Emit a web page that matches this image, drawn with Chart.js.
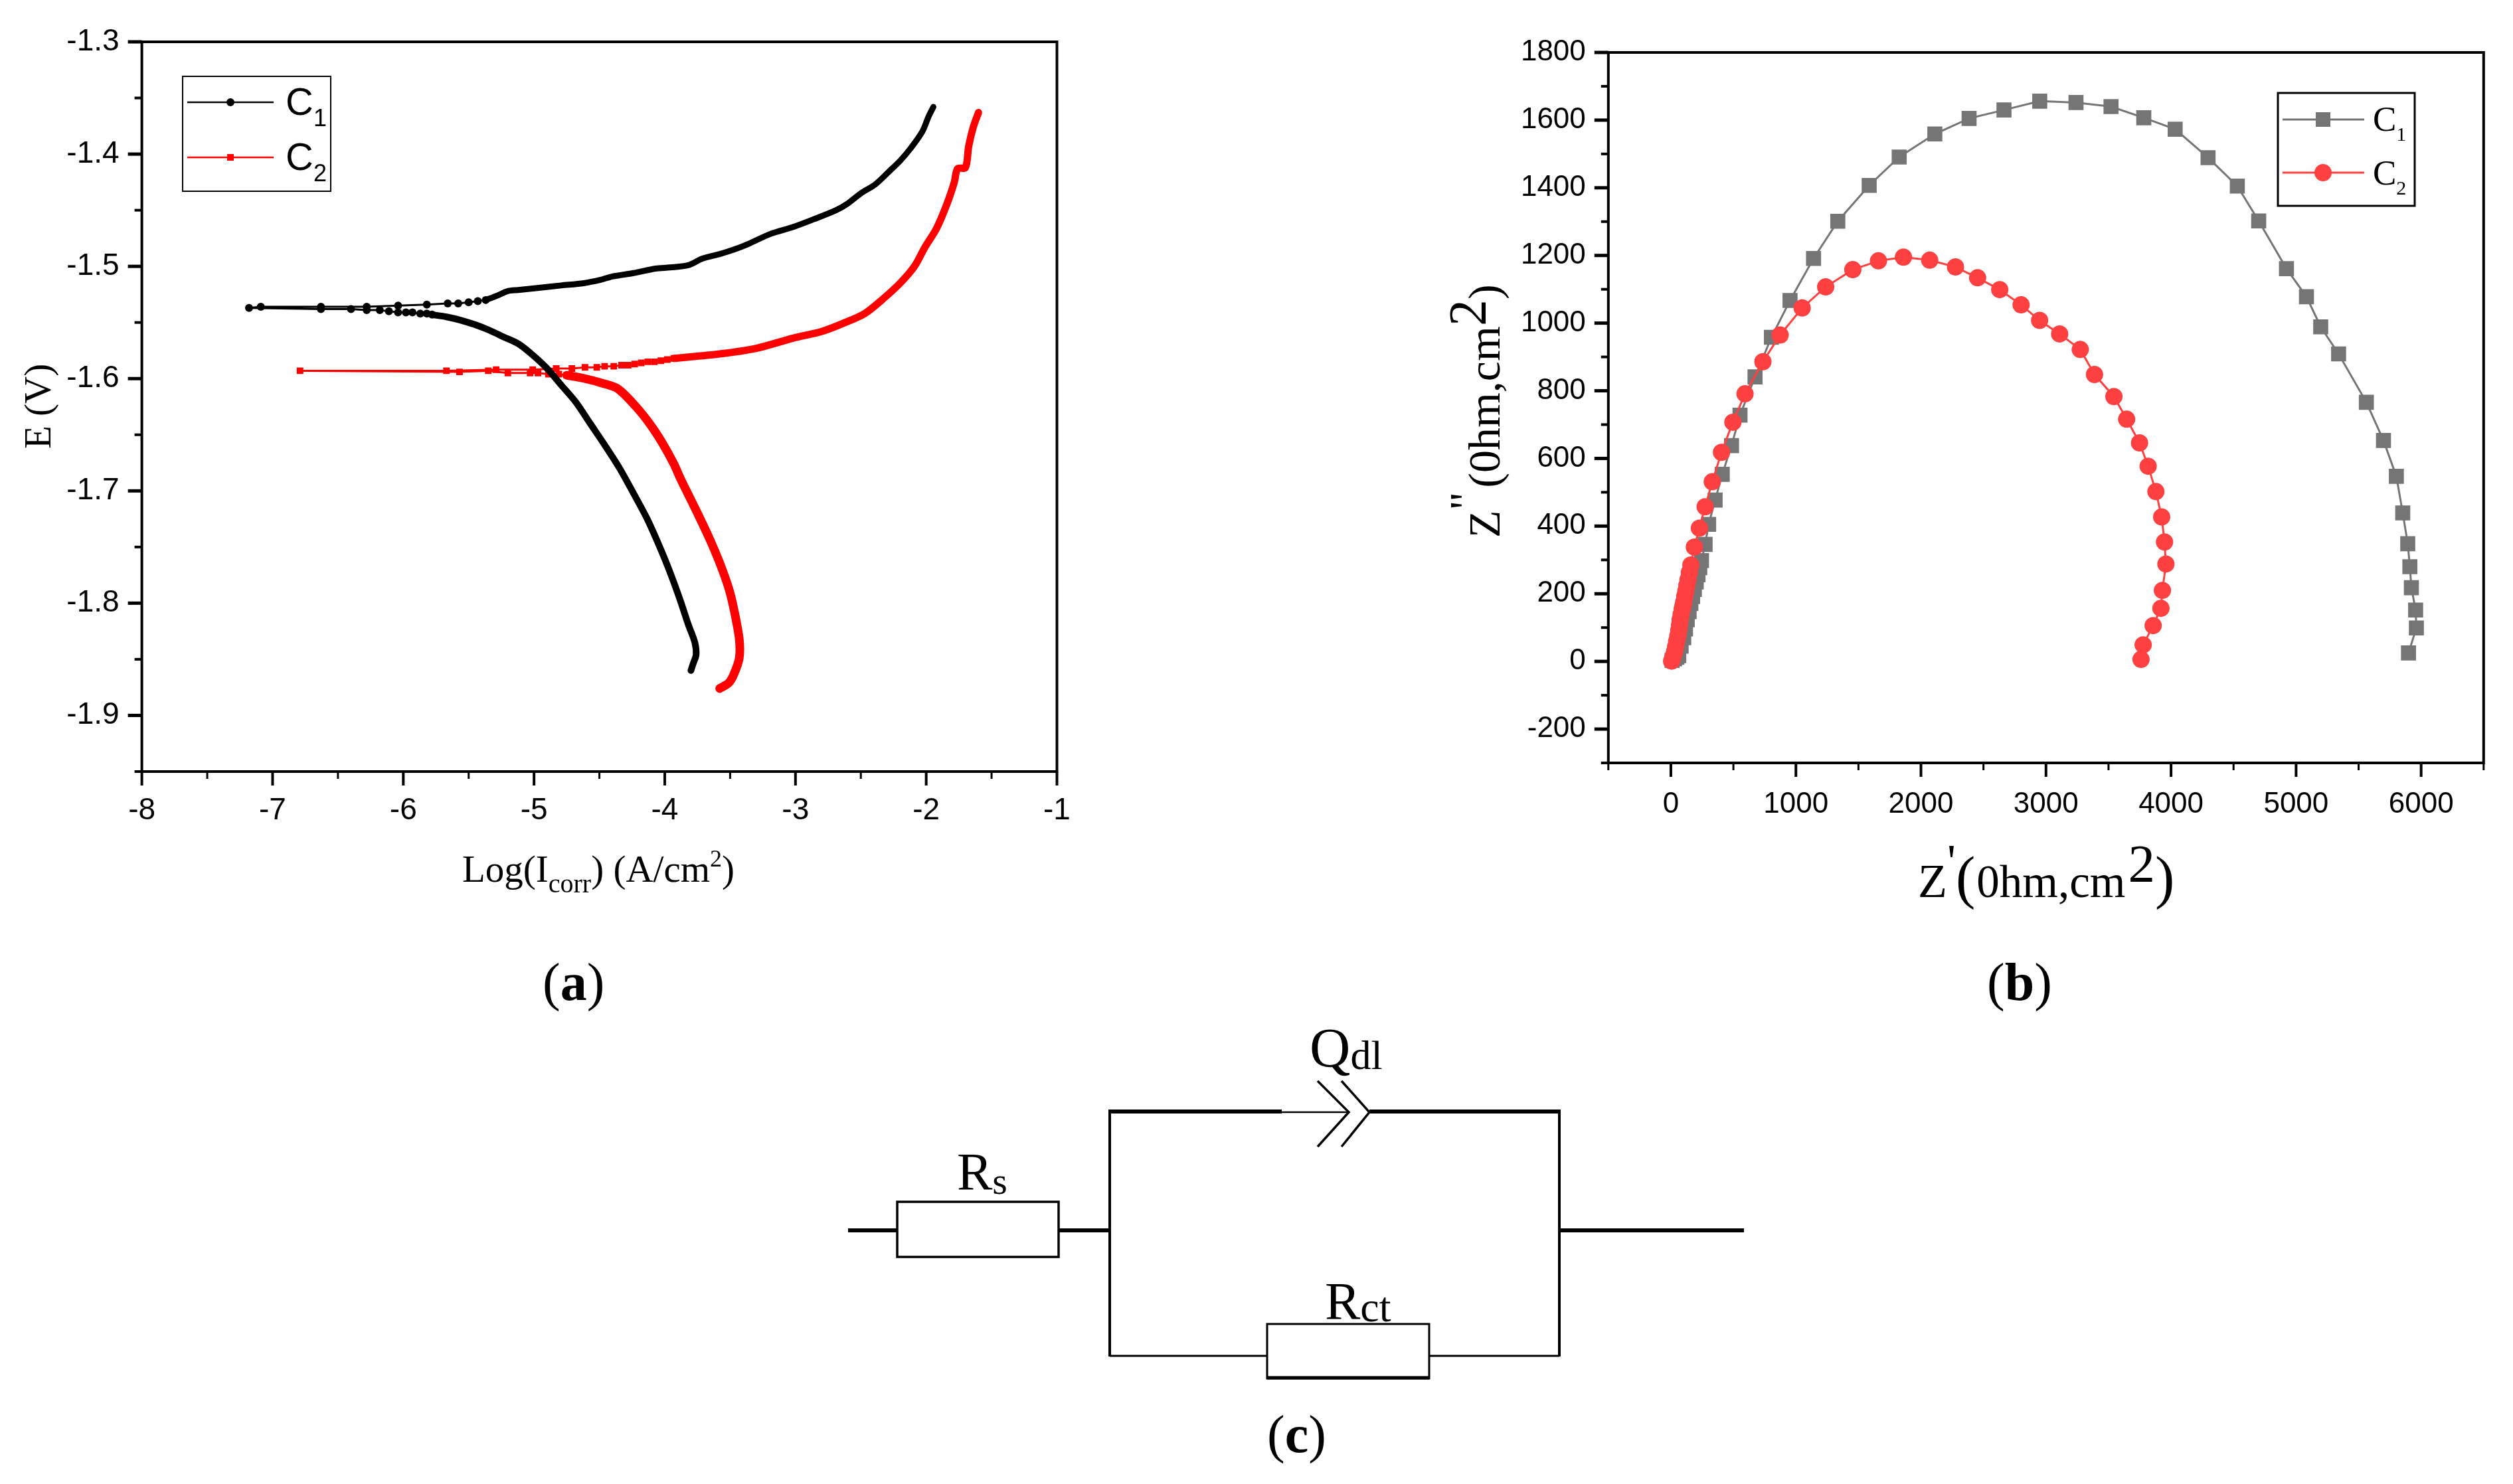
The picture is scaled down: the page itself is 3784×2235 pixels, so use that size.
<!DOCTYPE html>
<html>
<head>
<meta charset="utf-8">
<title>Polarization and impedance curves</title>
<script src="https://cdn.jsdelivr.net/npm/chart.js@4"></script>
<style>
html,body{margin:0;padding:0;background:#fff;overflow:hidden}
#page{position:relative;width:3784px;height:2235px}
canvas{position:absolute}
#chartA{left:0;top:0}
#chartB{left:2100px;top:0}
#overlay{position:absolute;left:0;top:0;font-family:"Liberation Serif",serif;fill:#000}
#overlay .sans{font-family:"Liberation Sans",sans-serif}
</style>
</head>
<body>
<div id="page">
<canvas id="chartA" width="1800" height="1400"></canvas>
<canvas id="chartB" width="1684" height="1400"></canvas>
<svg id="overlay" width="3784" height="2235" viewBox="0 0 3784 2235">
  <!-- axis titles a -->
  <text x="696" y="1328" font-size="57">Log(I<tspan font-size="40" dy="16">corr</tspan><tspan dy="-16">) (A/cm</tspan><tspan font-size="36" dy="-23">2</tspan><tspan dy="23">)</tspan></text>
  <text transform="translate(76,676) rotate(-90)" font-size="57">E (V)</text>
  <!-- axis titles b -->
  <text x="2888" y="1351" font-size="72">Z<tspan dy="-30">'</tspan><tspan font-size="88" dy="30">(</tspan><tspan font-size="69" dx="2">0hm,cm</tspan><tspan font-size="81" dx="4" dy="-23">2</tspan><tspan font-size="88" dy="23">)</tspan></text>
  <text transform="translate(2258,810) rotate(-90)" font-size="68">Z<tspan dy="-29">"</tspan><tspan dx="6" dy="29">(0hm,cm</tspan><tspan font-size="80" dy="-21">2</tspan><tspan font-size="68" dy="21">)</tspan></text>
  <!-- legend a -->
  <rect x="275" y="115" width="223" height="173" fill="none" stroke="#000" stroke-width="2"/>
  <line x1="282" x2="412" y1="154" y2="154" stroke="#000" stroke-width="2.5"/>
  <circle cx="347" cy="154" r="6" fill="#000"/>
  <line x1="282" x2="412" y1="237" y2="237" stroke="#ff0000" stroke-width="2.5"/>
  <rect x="342" y="232" width="10" height="10" fill="#ff0000"/>
  <text class="sans" x="430" y="173" font-size="58">C<tspan font-size="36" dy="17">1</tspan></text>
  <text class="sans" x="430" y="256" font-size="58">C<tspan font-size="36" dy="17">2</tspan></text>
  <!-- legend b -->
  <rect x="3430" y="140" width="206" height="170" fill="none" stroke="#000" stroke-width="3"/>
  <line x1="3437" x2="3560" y1="180" y2="180" stroke="#757575" stroke-width="3"/>
  <rect x="3487" y="169" width="22" height="22" fill="#757575"/>
  <line x1="3437" x2="3560" y1="260" y2="260" stroke="#ff4040" stroke-width="3"/>
  <circle cx="3498" cy="260" r="13" fill="#ff4040"/>
  <text x="3573" y="197" font-size="53">C<tspan font-size="30" dy="15">1</tspan></text>
  <text x="3573" y="278" font-size="53">C<tspan font-size="30" dy="15">2</tspan></text>
  <!-- panel labels -->
  <text x="817" y="1506" font-size="80">(<tspan font-weight="bold">a</tspan>)</text>
  <text x="2992" y="1506" font-size="80">(<tspan font-weight="bold">b</tspan>)</text>
  <text x="1908" y="2187" font-size="80">(<tspan font-weight="bold">c</tspan>)</text>
  <!-- circuit -->
  <g fill="none" stroke="#000">
    <line x1="1277" x2="1351" y1="1853" y2="1853" stroke-width="6"/>
    <rect x="1351" y="1810" width="243" height="83" stroke-width="3.5"/>
    <line x1="1594" x2="1671" y1="1853" y2="1853" stroke-width="6"/>
    <line x1="1671" x2="1671" y1="1672" y2="2043" stroke-width="4"/>
    <line x1="2348" x2="2348" y1="1672" y2="2043" stroke-width="4"/>
    <line x1="1669" x2="1930" y1="1674" y2="1674" stroke-width="6"/>
    <line x1="1930" x2="2031" y1="1675" y2="1675" stroke-width="2.5"/>
    <line x1="2062" x2="2350" y1="1674" y2="1674" stroke-width="6"/>
    <polyline points="1984,1628 2031,1675 1984,1727" stroke-width="3.5"/>
    <polyline points="2020,1628 2062,1675 2020,1727" stroke-width="3.5"/>
    <line x1="1671" x2="1908" y1="2042" y2="2042" stroke-width="3"/>
    <line x1="2152" x2="2348" y1="2042" y2="2042" stroke-width="3"/>
    <rect x="1908" y="1994" width="244" height="82" stroke-width="3"/>
    <line x1="1908" x2="2152" y1="2075" y2="2075" stroke-width="5"/>
    <line x1="2348" x2="2626" y1="1853" y2="1853" stroke-width="6"/>
  </g>
  <text x="1441" y="1792" font-size="80">R<tspan font-size="58" dy="6">s</tspan></text>
  <text x="1972" y="1607" font-size="85">Q<tspan font-size="62" dy="3">dl</tspan></text>
  <text x="1995" y="1987" font-size="80">R<tspan font-size="64" dy="3">ct</tspan></text>
</svg>
</div>

<script>
// ===== Data (a) polarization =====
const c1CathX=[-3.80,-3.78,-3.76,-3.77,-3.82,-3.88,-3.945,-4.02,-4.13,-4.24,-4.35,-4.46,-4.57,-4.68,-4.79,-4.90,-5.01,-5.12,-5.23,-5.34,-5.45,-5.56,-5.67,-5.78];
const c1CathY=[-1.860,-1.853,-1.846,-1.835,-1.819,-1.798,-1.777,-1.755,-1.726,-1.702,-1.679,-1.659,-1.640,-1.621,-1.606,-1.591,-1.579,-1.569,-1.563,-1.557,-1.552,-1.548,-1.545,-1.543];
const c1TailX=[-5.78,-5.82,-5.87,-5.93,-5.98,-6.04,-6.11,-6.18,-6.28,-6.40,-6.63,-7.18,-7.09,-6.63,-6.28,-6.04,-5.82,-5.66,-5.58,-5.50,-5.43,-5.37];
const c1TailY=[-1.543,-1.542,-1.542,-1.541,-1.541,-1.541,-1.540,-1.539,-1.539,-1.538,-1.538,-1.537,-1.536,-1.536,-1.536,-1.535,-1.534,-1.533,-1.533,-1.532,-1.531,-1.530];
const c1AnodX=[-5.37,-5.28,-5.20,-5.12,-4.95,-4.79,-4.62,-4.49,-4.40,-4.24,-4.07,-3.96,-3.82,-3.71,-3.58,-3.47,-3.36,-3.19,-3.02,-2.86,-2.69,-2.60,-2.50,-2.39,-2.28,-2.20,-2.12,-2.03,-1.98,-1.945];
const c1AnodY=[-1.530,-1.526,-1.522,-1.521,-1.519,-1.517,-1.515,-1.512,-1.509,-1.506,-1.502,-1.501,-1.499,-1.493,-1.489,-1.485,-1.480,-1.471,-1.465,-1.458,-1.450,-1.444,-1.435,-1.427,-1.415,-1.406,-1.395,-1.380,-1.366,-1.358];

const c2CathX=[-3.58,-3.51,-3.47,-3.43,-3.43,-3.47,-3.51,-3.58,-3.66,-3.77,-3.88,-3.93,-4.02,-4.11,-4.22,-4.36,-4.48,-4.61,-4.75];
const c2CathY=[-1.876,-1.871,-1.863,-1.849,-1.832,-1.806,-1.787,-1.764,-1.742,-1.715,-1.689,-1.676,-1.657,-1.641,-1.625,-1.609,-1.604,-1.600,-1.597];
const c2TailX=[-4.75,-4.81,-4.89,-4.97,-5.03,-5.20,-5.35,-5.57,-6.79,-5.67,-5.29,-5.01,-4.83,-4.71,-4.61,-4.52,-4.46,-4.39,-4.33,-4.28,-4.23,-4.18,-4.13,-4.08,-4.03,-3.98,-3.93];
const c2TailY=[-1.597,-1.596,-1.596,-1.595,-1.595,-1.595,-1.593,-1.594,-1.593,-1.593,-1.592,-1.592,-1.591,-1.591,-1.590,-1.590,-1.589,-1.589,-1.588,-1.588,-1.587,-1.586,-1.585,-1.585,-1.584,-1.583,-1.582];
const c2AnodX=[-3.93,-3.58,-3.30,-3.02,-2.80,-2.64,-2.47,-2.34,-2.20,-2.09,-2.01,-1.92,-1.84,-1.785,-1.76,-1.70,-1.675,-1.64,-1.60];
const c2AnodY=[-1.582,-1.578,-1.573,-1.564,-1.558,-1.551,-1.542,-1.530,-1.515,-1.500,-1.483,-1.466,-1.444,-1.425,-1.413,-1.412,-1.393,-1.376,-1.363];

const aXMajor=[-8,-7,-6,-5,-4,-3,-2,-1];
const aXMinor=[-7.5,-6.5,-5.5,-4.5,-3.5,-2.5,-1.5];
const aYMajor=[-1.9,-1.8,-1.7,-1.6,-1.5,-1.4,-1.3];
const aYMinor=[-1.95,-1.85,-1.75,-1.65,-1.55,-1.45,-1.35];

// ===== Data (b) impedance =====
const z1Re=[10,30,48,63,82,103,117,131,146,160,174,188,203,217,231,245,274,302,354,411,485,553,673,804,953,1141,1335,1586,1826,2111,2385,2664,2950,3240,3520,3782,4033,4296,4530,4701,4923,5083,5197,5340,5562,5699,5802,5853,5893,5910,5922,5956,5962,5899];
const z1Im=[3,8,12,17,45,70,96,123,147,171,192,213,235,256,277,298,346,405,477,553,638,728,841,958,1067,1191,1301,1407,1491,1559,1605,1630,1656,1652,1640,1607,1573,1489,1405,1302,1161,1078,989,909,766,653,547,439,348,280,218,152,99,25];
const z2Re=[6,17,29,38,46,55,63,69,74,82,91,97,103,111,120,128,137,148,160,188,228,274,331,405,496,593,736,874,1050,1238,1455,1660,1860,2070,2276,2453,2630,2801,2949,3109,3274,3388,3543,3645,3748,3817,3879,3925,3948,3959,3931,3919,3857,3777,3760];
const z2Im=[1,14,28,43,59,75,91,107,123,139,155,165,176,192,208,225,242,263,285,338,394,457,531,618,707,791,886,965,1045,1107,1158,1184,1195,1186,1166,1134,1099,1054,1008,968,922,848,783,716,646,577,502,427,353,288,210,157,106,49,6];

const bXMajor=[0,1000,2000,3000,4000,5000,6000];
const bXMinor=[-500,500,1500,2500,3500,4500,5500,6500];
const bYMajor=[-200,0,200,400,600,800,1000,1200,1400,1600,1800];
const bYMinor=[-300,-100,100,300,500,700,900,1100,1300,1500,1700];

const zip=(xs,ys)=>xs.map((x,i)=>({x,y:ys[i]}));

// ===== Axis frame and ticks =====
const framePlugin={
  id:"frame",
  afterDraw(chart,args,opts){
    const {ctx,chartArea:a}=chart;
    const sx=chart.scales.x, sy=chart.scales.y;
    ctx.save();
    ctx.strokeStyle="#000"; ctx.lineWidth=4;
    ctx.strokeRect(a.left,a.top,a.right-a.left,a.bottom-a.top);
    opts.xMajor.concat(opts.xMinor).forEach(v=>{
      const p=sx.getPixelForValue(v), len=opts.xMajor.includes(v)?21:11;
      ctx.lineWidth=opts.xMajor.includes(v)?4:3;
      ctx.beginPath(); ctx.moveTo(p,a.bottom); ctx.lineTo(p,a.bottom+len); ctx.stroke();
    });
    opts.yMajor.concat(opts.yMinor).forEach(v=>{
      const p=sy.getPixelForValue(v), len=opts.yMajor.includes(v)?21:11;
      ctx.lineWidth=opts.yMajor.includes(v)?5:4;
      ctx.beginPath(); ctx.moveTo(a.left,p); ctx.lineTo(a.left-len,p); ctx.stroke();
    });
    ctx.restore();
  }
};

function axis(major,minor,min,max,fit,padding,size){
  return {
    type:"linear", min, max,
    grid:{display:false,drawTicks:false}, border:{display:false},
    afterBuildTicks:s=>{ s.ticks=major.concat(minor).sort((a,b)=>a-b).map(value=>({value})); },
    afterFit:fit,
    ticks:{
      autoSkip:false, maxRotation:0, padding, color:"#000",
      font:{family:"Liberation Sans",size},
      callback:v=>major.includes(v)?String(v):""
    }
  };
}

// thick part of a polarization curve, the markers are too dense to tell apart there
function thick(label,xs,ys,color,width){
  return {label,data:zip(xs,ys),showLine:true,borderColor:color,borderWidth:width,tension:0.3,pointRadius:0,borderJoinStyle:"round",borderCapStyle:"round"};
}

// ===== Chart (a) =====
new Chart(document.getElementById("chartA"),{
  type:"scatter",
  plugins:[framePlugin],
  data:{datasets:[
    thick("C1 cathodic",c1CathX,c1CathY,"#000",10),
    {label:"C1",data:zip(c1TailX,c1TailY),showLine:true,borderColor:"#000",backgroundColor:"#000",borderWidth:3,pointRadius:6,pointBorderWidth:0},
    thick("C1 anodic",c1AnodX,c1AnodY,"#000",9),
    thick("C2 cathodic",c2CathX,c2CathY,"#ff0000",13),
    {label:"C2",data:zip(c2TailX,c2TailY),showLine:true,borderColor:"#ff0000",backgroundColor:"#ff0000",borderWidth:3,pointRadius:7,pointStyle:"rect",pointBorderWidth:0},
    thick("C2 anodic",c2AnodX,c2AnodY,"#ff0000",11)
  ]},
  options:{
    responsive:false, animation:false, devicePixelRatio:1,
    layout:{padding:{left:0,right:208.5,top:63,bottom:0}},
    plugins:{legend:{display:false},tooltip:{enabled:false},frame:{xMajor:aXMajor,xMinor:aXMinor,yMajor:aYMajor,yMinor:aYMinor}},
    scales:{
      x:axis(aXMajor,aXMinor,-8,-1,s=>{s.height=238;},32,46),
      y:axis(aYMajor,aYMinor,-1.95,-1.3,s=>{s.width=213.6;},34,46)
    }
  }
});

// ===== Chart (b) =====
new Chart(document.getElementById("chartB"),{
  type:"scatter",
  plugins:[framePlugin],
  data:{datasets:[
    {label:"C2",order:0,data:zip(z2Re,z2Im),showLine:true,borderColor:"#ff4040",backgroundColor:"#ff4040",borderWidth:3,pointRadius:13,pointBorderWidth:0},
    {label:"C1",order:1,data:zip(z1Re,z1Im),showLine:true,borderColor:"#757575",backgroundColor:"#757575",borderWidth:3,pointRadius:16,pointStyle:"rect",pointBorderWidth:0}
  ]},
  options:{
    responsive:false, animation:false, devicePixelRatio:1,
    layout:{padding:{left:0,right:44.2,top:79,bottom:0}},
    plugins:{legend:{display:false},tooltip:{enabled:false},frame:{xMajor:bXMajor,xMinor:bXMinor,yMajor:bYMajor,yMinor:bYMinor}},
    scales:{
      x:axis(bXMajor,bXMinor,-500,6500,s=>{s.height=251;},36,44),
      y:axis(bYMajor,bYMinor,-300,1800,s=>{s.width=321.8;},34,44)
    }
  }
});
</script>
</body>
</html>
